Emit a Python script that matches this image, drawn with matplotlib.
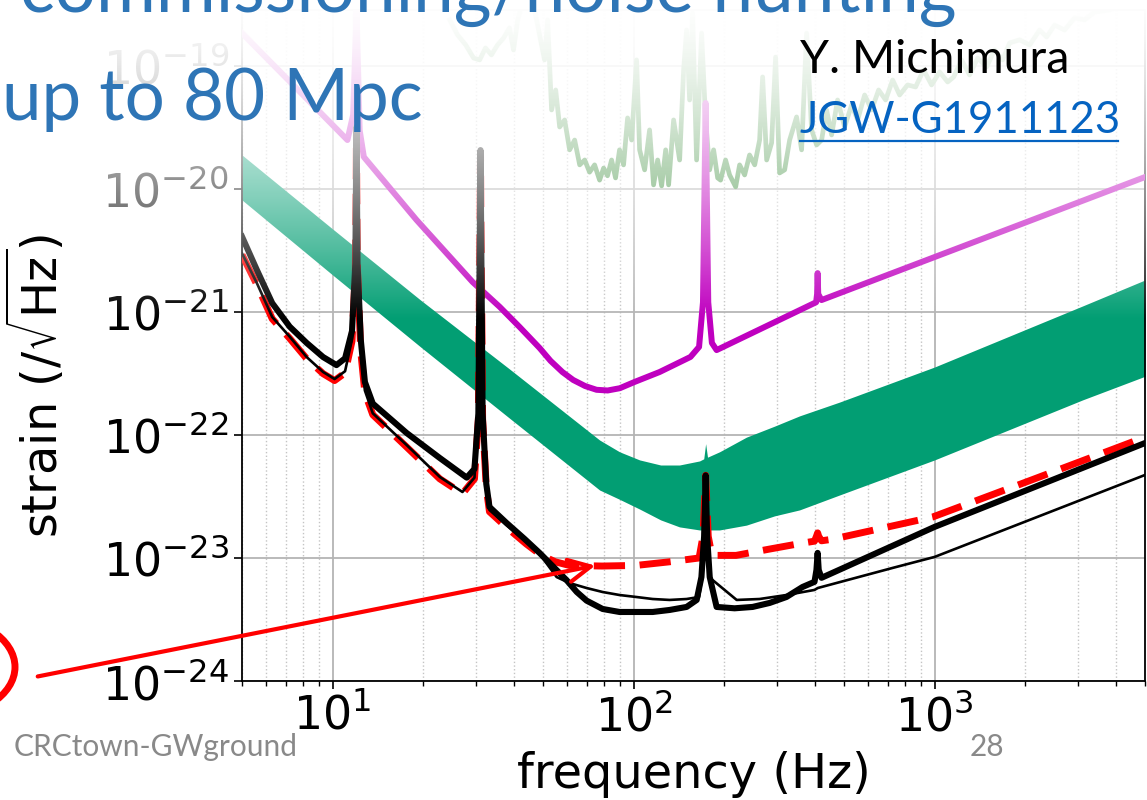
import numpy as np
import matplotlib
matplotlib.use("Agg")
import matplotlib.pyplot as plt
from matplotlib.patches import FancyArrowPatch, Ellipse
from matplotlib.lines import Line2D
from matplotlib.ticker import NullLocator

# ---- data (frequency in Hz, strain in 1/sqrt(Hz)) ----

# thick black curve
thick_f = [5.0, 5.6, 6.3, 7.2, 8.2, 9.3, 10.3, 11.0, 11.6, 11.9, 12.0, 12.1, 12.4, 12.8,
           13.6, 17.6, 22.7, 27.9, 29.6, 30.5, 31.0, 31.5, 32.4, 33.2, 37.8, 43.4, 48.7,
           54.6, 59.9, 64.7, 69.8, 78.9, 89.8, 115.7, 131.7, 150, 162, 168, 171.5, 173.5,
           175.5, 179, 188.7, 216.5, 248.5, 283, 322, 364, 399, 405, 408.7, 412, 421, 1000,
           5000]
thick_h = [4.1e-21, 2.2e-21, 1.18e-21, 7.6e-22, 5.6e-22, 4.3e-22, 3.7e-22, 4.2e-22, 7e-22,
           2.5e-21, 3.2e-20, 2.5e-21, 6e-22, 2.7e-22, 1.8e-22, 1.04e-22, 6.5e-23, 4.5e-23,
           5.3e-23, 1.5e-22, 2.07e-20, 1.5e-22, 4e-23, 2.6e-23, 1.93e-23, 1.43e-23, 1.1e-23,
           8.3e-24, 6.6e-24, 5.3e-24, 4.5e-24, 3.85e-24, 3.64e-24, 3.64e-24, 3.78e-24, 4.0e-24,
           4.56e-24, 7e-24, 1.5e-23, 4.7e-23, 1.5e-23, 7e-24, 4.0e-24, 3.9e-24, 4.0e-24,
           4.31e-24, 4.82e-24, 5.81e-24, 6.4e-24, 8e-24, 1.1e-23, 8e-24, 6.9e-24, 1.79e-23,
           8.6e-23]

# thin black curve
thin_f = [5.0, 5.6, 6.3, 7.2, 8.2, 9.3, 10.15, 11.0, 11.6, 11.9, 12.0, 12.1, 12.4, 12.8,
          13.6, 17.6, 22.7, 27.0, 29.6, 30.5, 31.0, 31.5, 32.4, 33.2, 37.8, 43.4, 48.7, 55.5,
          61.2, 69.8, 78.9, 89.8, 102, 115.7, 131.7, 150, 165, 169, 171.5, 173.5, 175.5, 178,
          220, 262, 322, 399, 409, 725, 1000, 5000]
thin_h = [3.0e-21, 1.72e-21, 9.1e-22, 6.3e-22, 4.3e-22, 3.25e-22, 2.85e-22, 3.3e-22, 6e-22,
          2.3e-21, 3.2e-20, 2.3e-21, 5e-22, 2.3e-22, 1.5e-22, 8.3e-23, 4.56e-23, 3.44e-23,
          4.5e-23, 1.4e-22, 2.07e-20, 1.4e-22, 3.8e-23, 2.46e-23, 1.85e-23, 1.4e-23, 1.08e-23,
          7.0e-24, 6.26e-24, 5.7e-24, 5.29e-24, 5.0e-24, 4.82e-24, 4.64e-24, 4.56e-24, 4.64e-24,
          4.82e-24, 7e-24, 1.4e-23, 4.2e-23, 1.4e-23, 7e-24, 4.56e-24, 4.64e-24, 5.0e-24,
          5.5e-24, 5.7e-24, 8.3e-24, 1.02e-23, 4.73e-23]

# red dashed curve
red_f = [5.0, 5.6, 6.3, 7.2, 8.2, 9.3, 10.15, 11.0, 11.6, 11.9, 12.0, 12.1, 12.4, 12.8,
         13.6, 17.6, 22.7, 27.0, 29.6, 30.5, 31.0, 31.5, 32.4, 33.2, 37.8, 44, 49.4, 55,
         61.2, 78.6, 101.9, 131, 165, 170, 173.5, 177, 182, 219, 282, 363, 399, 405, 408.7,
         412, 421, 457, 983, 2095, 5000]
red_h = [2.92e-21, 1.67e-21, 8.8e-22, 6.1e-22, 4.17e-22, 3.15e-22, 2.77e-22, 3.2e-22, 5.8e-22,
         2.2e-21, 3.0e-20, 2.2e-21, 4.8e-22, 2.2e-22, 1.46e-22, 8.0e-23, 4.4e-23, 3.33e-23,
         4.4e-23, 1.35e-22, 2.0e-20, 1.35e-22, 3.7e-23, 2.38e-23, 1.78e-23, 1.3e-23, 1.05e-23,
         9.3e-24, 8.7e-24, 8.6e-24, 8.7e-24, 9.3e-24, 1.0e-23, 1.5e-23, 4.7e-23, 1.5e-23,
         1.05e-23, 1.05e-23, 1.18e-23, 1.32e-23, 1.37e-23, 1.5e-23, 1.6e-23, 1.5e-23, 1.38e-23,
         1.42e-23, 2.15e-23, 4.3e-23, 9.6e-23]

# magenta curve
mag_f = [5.0, 11.2, 11.7, 11.95, 12.0, 12.05, 12.3, 12.7, 19.0, 29.2, 35.9, 41.8, 48.7,
         53, 58, 63, 69, 75.3, 82, 90, 100.8, 122, 154.5, 165, 170, 173.5, 177, 182, 188.7,
         404, 407, 408.7, 410.5, 421, 5000]
mag_h = [1.85e-19, 2.5e-20, 4e-20, 2e-19, 1e-18, 2e-19, 3e-20, 1.82e-20, 5.6e-21, 1.75e-21,
         1.1e-21, 7.55e-22, 5.1e-22, 4.0e-22, 3.25e-22, 2.8e-22, 2.5e-22, 2.33e-22, 2.3e-22,
         2.4e-22, 2.7e-22, 3.25e-22, 4.31e-22, 5.2e-22, 1.2e-21, 5e-20, 1.2e-21, 5.6e-22,
         4.9e-22, 1.2e-21, 1.4e-21, 2.07e-21, 1.4e-21, 1.25e-21, 1.25e-20]

# green band
band_f = [5, 10, 19.6, 38.7, 77.1, 89.8, 104.7, 123, 142, 165.6, 171, 173.5, 176, 193, 237,
          294, 356, 483, 1000, 3105, 5000]
band_hi = [1.89e-20, 4.73e-21, 1.25e-21, 3.44e-22, 9.1e-23, 7.3e-23, 6.27e-23, 5.7e-23,
           5.7e-23, 6.15e-23, 6.4e-23, 8.5e-23, 6.6e-23, 7.3e-23, 9.6e-23, 1.18e-22, 1.43e-22,
           1.85e-22, 3.57e-22, 1.12e-21, 1.82e-21]
band_lo = [8.14e-21, 2.0e-21, 5.2e-22, 1.37e-22, 3.57e-23, 3.0e-23, 2.5e-23, 2.04e-23,
           1.79e-23, 1.69e-23, 1.69e-23, 1.69e-23, 1.69e-23, 1.69e-23, 1.85e-23, 2.2e-23,
           2.46e-23, 3.25e-23, 6.27e-23, 1.93e-22, 3.0e-22]

# faded measured spectrum (strain in units of 1e-20)
meas_f = [24.5, 26.0, 27.7, 29.4, 30.8, 32.2, 33.7, 35.3, 37.0, 38.7, 39.9, 41.2, 42.5, 45.1,
          46.9, 50.6, 51.8, 53.4, 55.1, 56.8, 59.0, 61.3, 63.7, 66.2, 68.8, 71.4, 74.2, 77.1,
          79.5, 81.9, 84.5, 87.1, 89.8, 92.6, 95.5, 98.5, 102.3, 104.7, 108.8, 113.0, 116.5,
          120.2, 123.9, 127.8, 130.7, 135.8, 142.2, 146.6, 150.0, 153.5, 157.0, 161.9, 168.2,
          173.5, 178.9, 184.4, 190.2, 194.5, 202.1, 208.4, 218.3, 225.0, 233.8, 242.8, 252.5,
          262.2, 268.3, 276.7, 287.4, 296.3, 305.5, 317.5, 329.9, 347.9, 361.5, 375.6, 390.3,
          405.5, 421.3, 437.7, 454.8, 476.1, 502.3, 530.0, 554.9, 585.5, 617.8, 651.6, 687.5,
          725.4, 765.2, 813.4, 864.7, 919.3, 977.2, 1039, 1105, 1157, 1229, 1307, 1390, 1489,
          1582, 1682, 1775, 1916, 2069, 2233, 2356, 2504, 2703, 2918, 3150, 3401, 3815, 4181,
          4985]
meas_h = [23.7, 17.9, 14.8, 11.6, 11.2, 14.0, 12.3, 14.8, 16.9, 20.4, 13.5, 23.7, 31.3, 33.1,
          28.5, 11.2, 23.7, 4.39, 6.38, 3.19, 3.64, 2.08, 2.50, 1.57, 1.72, 1.37, 1.57, 1.18,
          1.48, 1.28, 1.72, 1.23, 2.08, 1.57, 3.78, 2.50, 11.2, 2.08, 1.43, 3.02, 1.08,
          1.72, 1.06, 2.08, 1.08, 3.64, 1.72, 9.28, 19.6, 5.29, 27.0, 1.72, 18.5,
          3.64, 1.43, 2.08, 1.23, 1.18, 1.72, 1.30, 1.04, 1.57, 1.30, 1.89, 1.57,
          2.50, 8.14, 1.72, 2.37, 11.8, 1.35, 1.43, 2.50, 3.85, 2.08, 18.5, 3.02,
          2.28, 2.50, 4.39, 2.75, 5.29, 3.19, 4.82, 3.64, 5.81, 4.39, 6.38, 5.29,
          7.69, 5.81, 7.01, 6.75, 9.28, 7.01, 8.94, 7.41, 8.14, 11.2, 8.45, 11.6, 9.82,
          13.5, 11.2, 15.4, 16.3, 14.8, 19.6, 17.2, 21.5, 19.6, 24.6, 23.7, 27.5, 28.5, 31.3,
          33.1]

x_lim = (5, 5000)
y_lim = (1e-24, 2.85e-19)

W, H = 1147, 800


def px(x, y):
    # pixel position (from top-left) to figure fraction
    return x / W, 1 - y / H


fig = plt.figure(figsize=(W / 100, H / 100), dpi=100)
ax = fig.add_axes([242 / W, 1 - 681 / H, 903 / W, 671 / H])
ax.set_xscale('log')
ax.set_yscale('log')

ax.fill_between(band_f, band_lo, band_hi, color='#029e73', lw=0, zorder=2)
ax.plot(meas_f, np.array(meas_h) * 1e-20, color='#3f8f3f', lw=3.4, zorder=2)
ax.plot(mag_f, mag_h, color='#bf00bf', lw=4.3, zorder=3)
ax.plot(red_f, red_h, color='red', lw=5, ls=(0, (4.5, 2.1)), zorder=4)
ax.plot(thin_f, thin_h, color='black', lw=1.9, zorder=5)
ax.plot(thick_f, thick_h, color='black', lw=4.4, zorder=6)

ax.set_xlim(*x_lim)
ax.set_ylim(*y_lim)
ax.yaxis.set_minor_locator(NullLocator())
ax.grid(True, which='major', color='#b4b4b4', lw=1.3)
ax.grid(True, which='minor', axis='x', color='#c4c4c4', lw=1.0, ls=':')
ax.set_axisbelow(True)
ax.tick_params(which='major', labelsize=33, length=6, width=1.2, direction='out')
ax.tick_params(which='minor', length=3.5, width=1.0, direction='out')
for s in ax.spines.values():
    s.set_linewidth(1.3)
ax.set_xlabel('frequency (Hz)', fontsize=34.5, labelpad=8)
ax.set_ylabel(r'strain $(/\sqrt{\mathrm{Hz}})$', fontsize=34.5)
ax.yaxis.set_label_coords((68 - 242) / 903, 0.44)

# white fade over the top of the slide
fade = fig.add_axes([92 / W, 1 - 320 / H, (W - 92) / W, 320 / H], zorder=5)
rows = np.linspace(0, 1, 321)
img = np.ones((321, 2, 4))
img[:, :, 3] = (1 - rows ** 1.5)[:, None]
fade.imshow(img, aspect='auto', interpolation='bilinear')
fade.set_axis_off()

blue = '#2e75b6'
fig.text(*px(20, 12), 'commissioning/noise hunting', family='Lato', fontsize=52.5,
         color=blue, va='baseline', zorder=10)
fig.text(*px(2, 120), 'up to 80 Mpc', family='Lato', fontsize=51, color=blue,
         va='baseline', zorder=10)
fig.text(*px(800, 73), 'Y. Michimura', family='Lato', fontsize=33.5, color='black',
         va='baseline', zorder=10)
fig.text(*px(800, 133), 'JGW-G1911123', family='Lato', fontsize=31.5, color='#0563c1',
         va='baseline', zorder=10)
x0, y0 = px(800, 141)
x1, _ = px(1118, 141)
fig.add_artist(Line2D([x0, x1], [y0, y0], color='#0563c1', lw=1.6, zorder=10))
fig.text(*px(14, 756), 'CRCtown-GWground', family='Lato', fontsize=21.5, color='#898989',
         va='baseline', zorder=10)
fig.text(*px(970, 756), '28', family='Lato', fontsize=21.5, color='#898989',
         va='baseline', zorder=10)

arrow = FancyArrowPatch(px(35, 677), px(598, 565), transform=fig.transFigure,
                        arrowstyle='->', mutation_scale=40, color='red', lw=3, zorder=10)
fig.add_artist(arrow)
ring = Ellipse(px(-65, 667), 160 / W, 103 / H, transform=fig.transFigure, fill=False,
               ec='red', lw=5, zorder=10)
fig.add_artist(ring)

fig.savefig('out.png', dpi=100)
